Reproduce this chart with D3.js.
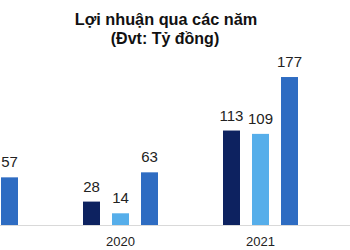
<!DOCTYPE html>
<html>
<head>
<meta charset="utf-8">
<script src="https://cdn.jsdelivr.net/npm/d3@7/dist/d3.min.js"></script>
<style>
  body { margin: 0; background: #fff; }
  svg { display: block; font-family: "Liberation Sans", Arial, sans-serif; }
</style>
</head>
<body>
<svg id="chart" width="350" height="250"></svg>
<script>
// data (only part of the chart is visible in the crop)
var years = ["2019", "2020", "2021", "2022"];
var series = ["a", "b", "c"];
var valuesA = [40, 28, 113, 54];
var valuesB = [20, 14, 109, 30];
var valuesC = [57, 63, 177, 60];
var colors = ["#0d2260", "#56aeea", "#2e6cc2"];

var rows = years.map(function(y, i){
  return { year: y, vals: [valuesA[i], valuesB[i], valuesC[i]] };
});

var svg = d3.select("#chart");
var baseY = 225;

var x0 = d3.scaleBand().domain(years).range([-89.5, 470.5]).padding(0);
var x1 = d3.scaleBand().domain(series)
  .range([x0.bandwidth()/2 - 37.5, x0.bandwidth()/2 + 37.5])
  .paddingInner(12/29).paddingOuter(0);
var y = d3.scaleLinear().domain([0, 200]).range([baseY, baseY - 167.2]);

// title
svg.append("text")
  .attr("x", 166).attr("y", 25)
  .attr("text-anchor", "middle")
  .style("font-weight", "bold").style("font-size", "16.3px").style("fill", "#111")
  .text("Lợi nhuận qua các năm");
svg.append("text")
  .attr("x", 165).attr("y", 44)
  .attr("text-anchor", "middle")
  .style("font-weight", "bold").style("font-size", "16px").style("fill", "#111")
  .text("(Đvt: Tỷ đồng)");

// baseline
svg.append("line")
  .attr("x1", 0).attr("x2", 350)
  .attr("y1", baseY + 0.5).attr("y2", baseY + 0.5)
  .style("stroke", "#d9d9d9").style("stroke-width", 1);

var groups = svg.selectAll(".grp").data(rows).enter().append("g")
  .attr("class", "grp")
  .attr("transform", function(d){ return "translate(" + x0(d.year) + ",0)"; });

groups.selectAll("rect").data(function(d){
    return d.vals.map(function(v, i){ return { s: series[i], v: v, i: i }; });
  }).enter().append("rect")
  .attr("x", function(d){ return x1(d.s); })
  .attr("width", x1.bandwidth())
  .attr("y", function(d){ return y(d.v); })
  .attr("height", function(d){ return baseY - y(d.v); })
  .style("fill", function(d){ return colors[d.i]; });

groups.selectAll(".lbl").data(function(d){
    return d.vals.map(function(v, i){ return { s: series[i], v: v }; });
  }).enter().append("text")
  .attr("class", "lbl")
  .attr("x", function(d){ return x1(d.s) + x1.bandwidth()/2; })
  .attr("y", function(d){ return y(d.v) - 10; })
  .attr("text-anchor", "middle")
  .style("font-size", "15px").style("fill", "#222")
  .text(function(d){ return d.v; });

// year labels
svg.selectAll(".yr").data(years).enter().append("text")
  .attr("class", "yr")
  .attr("x", function(d){ return x0(d) + x0.bandwidth()/2; })
  .attr("y", 246)
  .attr("text-anchor", "middle")
  .style("font-size", "13px").style("fill", "#222")
  .text(function(d){ return d; });
</script>
</body>
</html>
